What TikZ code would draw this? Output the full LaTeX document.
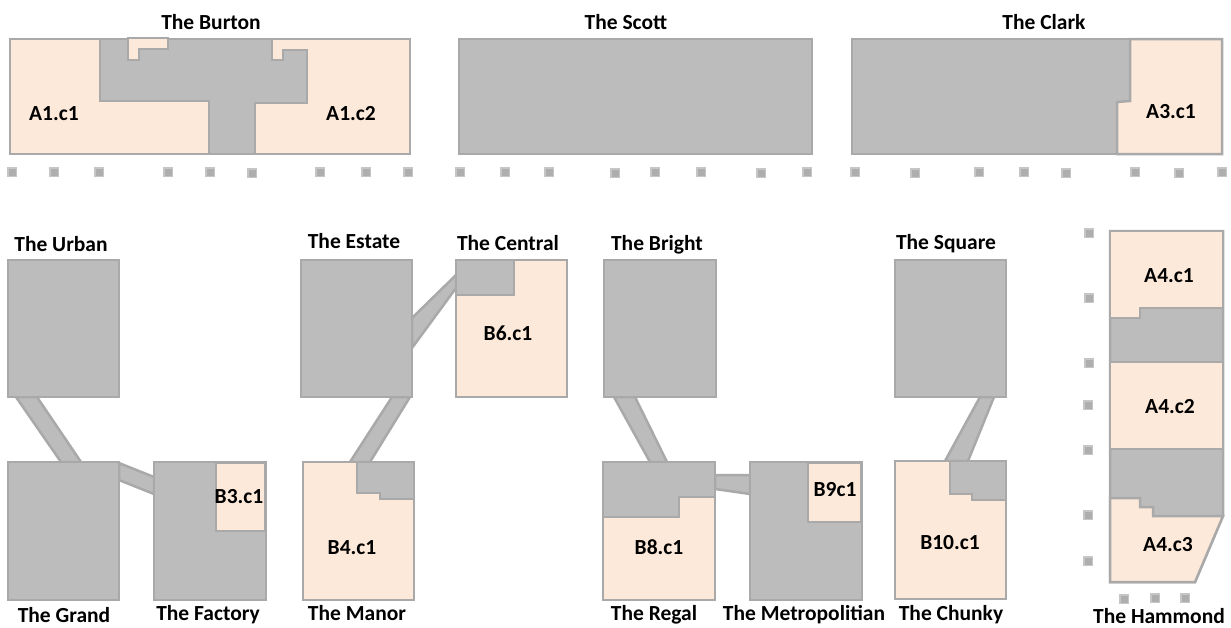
\documentclass[tikz,border=0pt]{standalone}
\usepackage{fontspec}
\setmainfont{Carlito}
\definecolor{cellgrey}{HTML}{BCBCBC}
\definecolor{edgegrey}{HTML}{A9A9A9}
\definecolor{peach}{HTML}{FDE9D9}
\definecolor{pierfill}{HTML}{AEAEAE}
\definecolor{pieredge}{HTML}{C6C6C6}
\tikzset{
  grey part/.style={fill=cellgrey,draw=edgegrey,line width=2.5pt,line join=miter},
  peach part/.style={fill=peach,draw=edgegrey,line width=2.5pt,line join=miter},
  pier/.style={fill=pierfill,draw=pieredge,line width=1.5pt,minimum size=8.5pt,inner sep=0pt,shape=rectangle},
  title/.style={font=\bfseries\fontsize{21.5}{24}\selectfont,inner sep=0pt,text=black,text height=13.5pt,text depth=0pt,yshift=-1pt},
  cell/.style={font=\bfseries\fontsize{21.5}{24}\selectfont,inner sep=0pt,text=black,text height=13.5pt,text depth=0pt,yshift=-1pt}
}
\begin{document}
\begin{tikzpicture}[x=1pt,y=-1pt]
\useasboundingbox (0,0) rectangle (1231,627);
% skybridges
\draw[grey part] (16,397) -- (37,397) -- (81,462) -- (61,462) -- cycle;
\draw[grey part] (119,463) -- (154,477) -- (154,494) -- (119,480) -- cycle;
\draw[grey part] (392,397) -- (410,397) -- (370,462) -- (350,462) -- cycle;
\draw[grey part] (412,318) -- (456,275) -- (456,288) -- (412,348) -- cycle;
\draw[grey part] (614,397) -- (635,397) -- (667,462) -- (650,462) -- cycle;
\draw[grey part] (715,475) -- (750,475) -- (750,494) -- (715,489) -- cycle;
\draw[grey part] (980,397) -- (994,397) -- (968,461) -- (945,461) -- cycle;
% The Burton
\draw[peach part] (10,39) rectangle (410,154);
\draw[grey part] (100,39) -- (272,39) -- (272,60) -- (283,60) -- (283,50) -- (307,50) -- (307,103) -- (255,103) -- (255,154) -- (209,154) -- (209,101) -- (100,101) -- cycle;
\draw[peach part] (128,38) -- (168,38) -- (168,49) -- (139,49) -- (139,60) -- (128,60) -- cycle;
% The Scott
\draw[grey part] (459,39) rectangle (812,154);
% The Clark
\draw[grey part] (852,39) rectangle (1222,154);
\draw[peach part] (1130,39) -- (1222,39) -- (1222,154) -- (1117,154) -- (1117,102) -- (1130,101) -- cycle;
% Lower row
\draw[grey part] (8,260) rectangle (119,397);
\draw[grey part] (8,462) rectangle (119,600);
\draw[grey part] (154,462) rectangle (266,600);
\draw[peach part] (216,463) rectangle (265,531);
\draw[peach part] (303,462) rectangle (414,600);
\draw[grey part] (357,462) -- (414,462) -- (414,499) -- (380,499) -- (380,493) -- (357,493) -- cycle;
\draw[grey part] (301,260) rectangle (412,397);
\draw[peach part] (456,260) rectangle (567,397);
\draw[grey part] (456,260) -- (514,260) -- (514,295) -- (456,295) -- cycle;
\draw[grey part] (604,260) rectangle (716,397);
\draw[peach part] (603,462) rectangle (715,600);
\draw[grey part] (603,462) -- (715,462) -- (715,497) -- (679,497) -- (679,517) -- (603,517) -- cycle;
\draw[grey part] (750,462) rectangle (862,600);
\draw[peach part] (808,463) rectangle (861,522);
\draw[grey part] (895,260) rectangle (1006,397);
\draw[peach part] (895,461) rectangle (1006,599);
\draw[grey part] (950,461) -- (1006,461) -- (1006,500) -- (972,500) -- (972,494) -- (950,494) -- cycle;
% The Hammond
\draw[grey part] (1110,231) -- (1223,231) -- (1223,516) -- (1195,582) -- (1110,582) -- cycle;
\draw[peach part] (1110,231) -- (1223,231) -- (1223,308) -- (1140,308) -- (1140,318) -- (1110,318) -- cycle;
\draw[peach part] (1110,362) rectangle (1223,449);
\draw[peach part] (1110,498) -- (1140,498) -- (1140,507) -- (1153,507) -- (1153,516) -- (1223,516) -- (1195,582) -- (1110,582) -- cycle;
% piers
\foreach \px/\py [count=\i] in {12/172,54/172,99/172,168/172,210/172,252/173,320/172,366/172,408/172,
  460/172,505/172,549/172,615/173,655/172,701/172,761/173,807/172,
  855/172,915/173,979/172,1024/172,1066/173,1135/172,1179/173,1222/172,
  1089/233,1089/298,1089/363,1088/405,1088/450,1088/515,1088/561,1124/599,1155/598,1185/598}
  \node[pier] (pier\i) at (\px,\py) {};
% titles
\node[title] (burton) at (211,22) {The Burton};
\node[title] (scott) at (626,22) {The Scott};
\node[title] (clark) at (1044,22) {The Clark};
\node[title] (urban) at (61,244) {The Urban};
\node[title] (estate) at (354,241) {The Estate};
\node[title] (central) at (508,243) {The Central};
\node[title] (bright) at (657,243) {The Bright};
\node[title] (square) at (946,242) {The Square};
\node[title] (grand) at (64,615) {The Grand};
\node[title] (factory) at (208,613) {The Factory};
\node[title] (manor) at (357,613) {The Manor};
\node[title] (regal) at (654,613) {The Regal};
\node[title] (metro) at (804,613) {The Metropolitian};
\node[title] (chunky) at (951,613) {The Chunky};
\node[title] (hammond) at (1159,616) {The Hammond};
% cells
\node[cell] (a1c1) at (54,113) {A1.c1};
\node[cell] (a1c2) at (351,113) {A1.c2};
\node[cell] (a3c1) at (1171,111) {A3.c1};
\node[cell] (b3c1) at (239,496) {B3.c1};
\node[cell] (b4c1) at (352,547) {B4.c1};
\node[cell] (b6c1) at (508,333) {B6.c1};
\node[cell] (b8c1) at (659,547) {B8.c1};
\node[cell] (b9c1) at (835,489) {B9c1};
\node[cell] (b10c1) at (950,542) {B10.c1};
\node[cell] (a4c1) at (1169,275) {A4.c1};
\node[cell] (a4c2) at (1170,406) {A4.c2};
\node[cell] (a4c3) at (1168,544) {A4.c3};
\end{tikzpicture}
\end{document}
